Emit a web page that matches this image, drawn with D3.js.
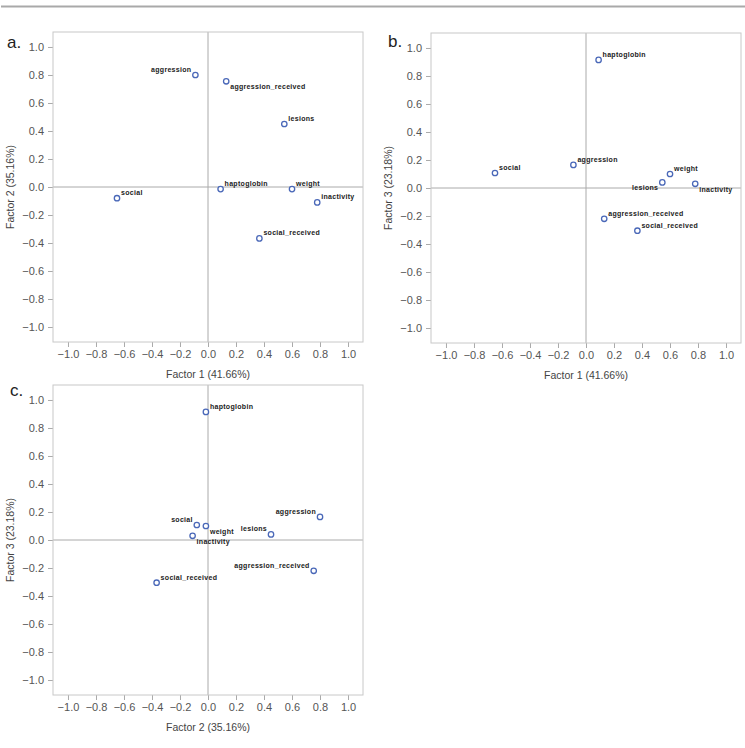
<!DOCTYPE html>
<html>
<head>
<meta charset="utf-8">
<script src="https://cdn.jsdelivr.net/npm/d3@7"></script>
<style>
  body { margin: 0; background: #fff; }
  svg { display: block; font-family: "Liberation Sans", Arial, sans-serif; }
</style>
</head>
<body>
<div id="chart"></div>
<script>
// factor loadings
var variables = ['aggression', 'aggression_received', 'lesions', 'haptoglobin',
                 'weight', 'inactivity', 'social', 'social_received'];
var factor1 = [-0.09, 0.13, 0.545, 0.09, 0.60, 0.78, -0.65, 0.367];
var factor2 = [0.80, 0.755, 0.45, -0.015, -0.015, -0.11, -0.08, -0.367];
var factor3 = [0.165, -0.22, 0.04, 0.915, 0.10, 0.03, 0.107, -0.305];

var factorLabels = ['Factor 1 (41.66%)', 'Factor 2 (35.16%)', 'Factor 3 (23.18%)'];
var ticks = [-1.0, -0.8, -0.6, -0.4, -0.2, 0.0, 0.2, 0.4, 0.6, 0.8, 1.0];

var width = 745, height = 748;
var plot_size = 310;
var lim = 1.107;

var svg = d3.select('#chart')
    .append('svg')
    .attr('width', width)
    .attr('height', height);

// thin rule across the top
svg.append('rect')
    .attr('x', 1).attr('y', 5.5)
    .attr('width', width - 1).attr('height', 2)
    .attr('fill', '#a9a9a9');

// label side for each variable (same order as variables), per panel
var panels = [
  {letter: 'a.', x: factor1, y: factor2, xl: factorLabels[0], yl: factorLabels[1],
   left: 53, top: 32, letter_x: 7, letter_y: 48,
   side: ['nw', 'se', 'ne', 'ne', 'ne', 'ne', 'ne', 'ne']},
  {letter: 'b.', x: factor1, y: factor3, xl: factorLabels[0], yl: factorLabels[2],
   left: 431, top: 33, letter_x: 388, letter_y: 47,
   side: ['ne', 'ne', 'sw', 'ne', 'ne', 'se', 'ne', 'ne']},
  {letter: 'c.', x: factor2, y: factor3, xl: factorLabels[1], yl: factorLabels[2],
   left: 53, top: 385, letter_x: 10, letter_y: 396,
   side: ['nw', 'nw', 'nw', 'ne', 'se', 'se', 'nw', 'ne']}
];

panels.forEach(function(p) {
    var x_scale = d3.scaleLinear().domain([-lim, lim]).range([0, plot_size]);
    var y_scale = d3.scaleLinear().domain([-lim, lim]).range([plot_size, 0]);

    svg.append('text')
        .attr('x', p.letter_x).attr('y', p.letter_y)
        .attr('font-size', '17px')
        .attr('fill', '#222')
        .text(p.letter);

    var g = svg.append('g')
        .attr('transform', 'translate(' + p.left + ',' + p.top + ')');

    // axes
    var x_axis = d3.axisBottom(x_scale).tickValues(ticks).tickSize(5).tickPadding(3)
        .tickFormat(d3.format('.1f'));
    var y_axis = d3.axisLeft(y_scale).tickValues(ticks).tickSize(5).tickPadding(4)
        .tickFormat(d3.format('.1f'));

    var xg = g.append('g')
        .attr('transform', 'translate(0,' + plot_size + ')')
        .call(x_axis);
    var yg = g.append('g').call(y_axis);

    [xg, yg].forEach(function(a) {
        a.select('.domain').remove();
        a.selectAll('line').attr('stroke', '#aaa');
        a.selectAll('text')
            .attr('fill', '#555')
            .attr('font-size', '11px')
            .attr('font-family', '"Liberation Sans", Arial, sans-serif');
    });

    // zero reference lines
    g.append('line')
        .attr('x1', x_scale(0)).attr('x2', x_scale(0))
        .attr('y1', 0).attr('y2', plot_size)
        .attr('stroke', '#aaa');
    g.append('line')
        .attr('x1', 0).attr('x2', plot_size)
        .attr('y1', y_scale(0)).attr('y2', y_scale(0))
        .attr('stroke', '#aaa');

    // frame
    g.append('rect')
        .attr('x', 0).attr('y', 0)
        .attr('width', plot_size).attr('height', plot_size)
        .attr('fill', 'none')
        .attr('stroke', '#c8c8c8');

    // axis titles
    g.append('text')
        .attr('x', plot_size / 2).attr('y', plot_size + 36)
        .attr('text-anchor', 'middle')
        .attr('font-size', '10.5px')
        .attr('fill', '#444')
        .text(p.xl);

    g.append('text')
        .attr('transform', 'rotate(-90)')
        .attr('x', -y_scale(0)).attr('y', -39)
        .attr('text-anchor', 'middle')
        .attr('font-size', '10.5px')
        .attr('fill', '#444')
        .text(p.yl);

    // points
    var pts = variables.map(function(v, i) {
        return {name: v, x: p.x[i], y: p.y[i], side: p.side[i]};
    });

    g.selectAll('circle.pt')
        .data(pts)
        .enter()
        .append('circle')
        .attr('class', 'pt')
        .attr('cx', function(d) { return x_scale(d.x); })
        .attr('cy', function(d) { return y_scale(d.y); })
        .attr('r', 2.7)
        .attr('fill', 'white')
        .attr('stroke', '#4a68b8')
        .attr('stroke-width', 1.3);

    g.selectAll('text.lbl')
        .data(pts)
        .enter()
        .append('text')
        .attr('class', 'lbl')
        .attr('x', function(d) {
            return x_scale(d.x) + (d.side[1] == 'e' ? 4 : -4);
        })
        .attr('y', function(d) {
            return y_scale(d.y) + (d.side[0] == 'n' ? -3 : 8);
        })
        .attr('text-anchor', function(d) { return d.side[1] == 'e' ? 'start' : 'end'; })
        .attr('font-size', '7px')
        .attr('font-weight', 'bold')
        .attr('letter-spacing', '0.3px')
        .attr('fill', '#222')
        .text(function(d) { return d.name; });
});
</script>
</body>
</html>
